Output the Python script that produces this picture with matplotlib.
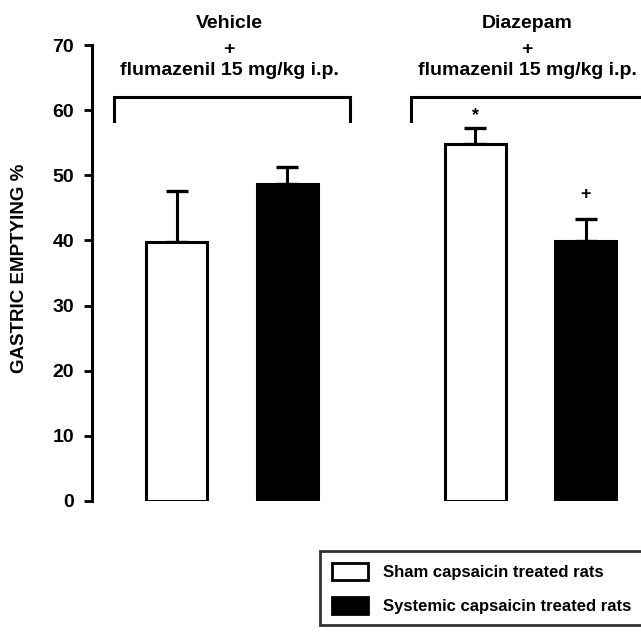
import numpy as np
import matplotlib.pyplot as plt
from matplotlib.patches import Patch

plt.rcParams['font.family'] = ['Liberation Sans', 'DejaVu Sans']
plt.rcParams['font.weight'] = 'bold'

# data
groups = [["Vehicle", "+", "flumazenil 15 mg/kg i.p."],
          ["Diazepam", "+", "flumazenil 15 mg/kg i.p."]]
series = ["Sham capsaicin treated rats", "Systemic capsaicin treated rats"]
means = [39.7, 48.7, 54.8, 39.9]
errs = [7.9, 2.6, 2.5, 3.4]
colors = ["white", "black", "white", "black"]
marks = ["", "", "*", "+"]
xpos = [0.0, 1.0, 2.7, 3.7]

fig = plt.figure(figsize=(6.41, 6.34), dpi=100)
ax = fig.add_axes([0.1435, 0.2098, 0.8565, 0.7192])

w = 0.55
ax.bar(xpos, means, width=w, color=colors, edgecolor="black", linewidth=2.2, zorder=2)
for x, m, e in zip(xpos, means, errs):
    ax.errorbar(x, m, yerr=[[0], [e]], fmt="none", ecolor="black",
                elinewidth=2.2, capsize=8, capthick=2.4, zorder=1)

mark_off = {"*": 0.6, "+": 2.4}
for x, m, e, s in zip(xpos, means, errs, marks):
    if s:
        ax.text(x, m + e + mark_off[s], s, ha="center", va="bottom", fontsize=13,
                fontweight="bold")

# brackets over each group
br = [(-0.566, 1.57), (2.12, 4.6)]
for a, b in br:
    ax.plot([a, a, b, b], [58.3, 62.0, 62.0, 58.3], color="black", lw=2.2,
            clip_on=False, solid_joinstyle="miter")

line_y = [72.6, 68.6, 65.4]
for x, lines in zip([0.475, 3.17], groups):
    for ty, txt in zip(line_y, lines):
        ax.text(x, ty, txt, ha="center", va="baseline", fontsize=14,
                fontweight="bold", clip_on=False)

ax.set_xlim(-0.765, 4.2)
ax.set_ylim(0, 70)
ax.set_yticks(np.arange(0, 71, 10))
ax.set_xticks([])
ax.spines["top"].set_visible(False)
ax.spines["right"].set_visible(False)
ax.spines["bottom"].set_visible(False)
ax.spines["left"].set_linewidth(2.2)
ax.tick_params(axis="y", width=2.0, length=6, labelsize=14, pad=7)
for t in ax.get_yticklabels():
    t.set_fontweight("bold")
ax.set_ylabel("GASTRIC EMPTYING %", fontsize=13.5, fontweight="bold")
ax.yaxis.set_label_coords(-0.117, 0.511)

handles = [Patch(facecolor="white", edgecolor="black", linewidth=2.0),
           Patch(facecolor="black", edgecolor="black", linewidth=2.0)]
leg = fig.legend(handles, series, loc="upper left", mode="expand",
                 bbox_to_anchor=(0.4992, 0.0, 0.54, 0.1309), borderaxespad=0,
                 frameon=True, fancybox=False, edgecolor="black",
                 handlelength=2.2, handleheight=1.2, labelspacing=1.0,
                 borderpad=0.7, handletextpad=0.9,
                 prop={"weight": "bold", "size": 12})
leg.get_frame().set_linewidth(2.0)

fig.savefig("out.png", dpi=100)
